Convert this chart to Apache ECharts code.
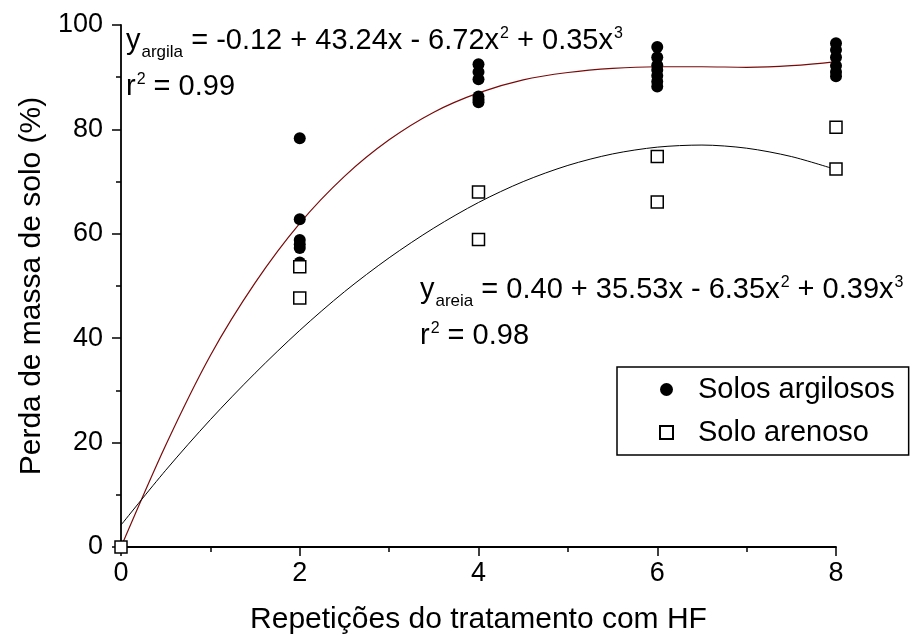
<!DOCTYPE html>
<html>
<head>
<meta charset="utf-8">
<script src="https://cdn.jsdelivr.net/npm/echarts@6/dist/echarts.min.js"></script>
<style>
  html, body { margin: 0; padding: 0; background: #fff; }
  #chart { width: 918px; height: 641px; }
</style>
</head>
<body>
<div id="chart"></div>
<script>
// HF treatment repetitions (x) and soil mass loss (%) per replicate
const doses = [0, 2, 4, 6, 8];
const argilaValues = [
  [0],
  [78.3, 62.8, 58.8, 58.0, 57.3, 54.5],
  [92.5, 91.0, 89.6, 86.3, 85.7, 85.2],
  [95.8, 93.8, 92.3, 91.4, 90.3, 89.2, 88.2],
  [96.5, 95.2, 93.8, 92.2, 91.0, 90.2]
];
const areiaValues = [
  [0],
  [53.7, 47.7],
  [68.0, 58.9],
  [74.8, 66.1],
  [80.4, 72.4]
];

// Fitted curves, sampled every 0.5 repetitions
const fitX = [0, 0.5, 1, 1.5, 2, 2.5, 3, 3.5, 4, 4.5, 5, 5.5, 6, 6.5, 7, 7.5, 8];
const fitArgila = [0, 19.5, 36.7, 50.6, 62.0, 71.0, 78.0, 83.3, 87.0, 89.5, 90.9, 91.7, 92.0, 92.0, 91.9, 92.2, 93.0];
const fitAreia = [4.2, 14.7, 24.4, 33.3, 41.5, 48.9, 55.4, 61.1, 66.0, 70.0, 73.1, 75.3, 76.6, 77.0, 76.4, 74.8, 72.3];

const xTicks = [0, 2, 4, 6, 8];
const yTicks = [0, 20, 40, 60, 80, 100];

const FONT = '"Liberation Sans", Arial, sans-serif';

function toPairs(xs, groups) {
  const out = [];
  xs.forEach((x, i) => groups[i].forEach(v => out.push([x, v])));
  return out;
}
function zip(xs, ys) { return xs.map((x, i) => [x, ys[i]]); }

const chart = echarts.init(document.getElementById('chart'), null, { renderer: 'canvas' });

// Rich-text styles for the regression equations (subscripts / superscripts)
const eqRich = {
  n:   { fontSize: 29, lineHeight: 46, fontFamily: FONT, color: '#000', verticalAlign: 'middle' },
  sub: { fontSize: 17, lineHeight: 17, fontFamily: FONT, color: '#000', verticalAlign: 'bottom', padding: [0, 0, 3, 1] },
  sup: { fontSize: 16, lineHeight: 16, fontFamily: FONT, color: '#000', verticalAlign: 'top', padding: [8, 0, 0, 1] }
};

chart.setOption({
  animation: false,
  backgroundColor: '#fff',
  grid: { left: 121, right: 82, top: 25, bottom: 94, containLabel: false },
  xAxis: {
    type: 'value',
    min: 0, max: 8, interval: 2,
    name: 'Repetições do tratamento com HF',
    nameLocation: 'middle',
    nameGap: 58,
    nameTextStyle: { fontFamily: FONT, fontSize: 30, color: '#000' },
    axisLine: { show: true, onZero: false, lineStyle: { color: '#000', width: 1.8 } },
    axisTick: { show: true, inside: false, length: 9, lineStyle: { color: '#000', width: 1.5 } },
    minorTick: { show: true, splitNumber: 2, length: 5, lineStyle: { color: '#000', width: 1.5 } },
    axisLabel: { fontFamily: FONT, fontSize: 27, color: '#000', margin: 13,
      formatter: v => (xTicks.indexOf(v) >= 0 ? String(v) : '') },
    splitLine: { show: false }
  },
  yAxis: {
    type: 'value',
    min: 0, max: 100, interval: 20,
    name: 'Perda de massa de solo (%)',
    nameLocation: 'middle',
    nameGap: 74,
    nameTextStyle: { fontFamily: FONT, fontSize: 30, color: '#000' },
    axisLine: { show: true, onZero: false, lineStyle: { color: '#000', width: 1.8 } },
    axisTick: { show: true, inside: false, length: 9, lineStyle: { color: '#000', width: 1.5 } },
    minorTick: { show: true, splitNumber: 2, length: 5, lineStyle: { color: '#000', width: 1.5 } },
    axisLabel: { fontFamily: FONT, fontSize: 27, color: '#000', margin: 18,
      formatter: v => (yTicks.indexOf(v) >= 0 ? String(v) : '') },
    splitLine: { show: false }
  },
  legend: {
    orient: 'vertical',
    left: 617, top: 367,
    padding: [6, 14, 6, 42],
    itemGap: 10,
    itemWidth: 13, itemHeight: 13,
    borderColor: '#000', borderWidth: 1.5,
    backgroundColor: '#fff',
    textStyle: { fontFamily: FONT, fontSize: 29, lineHeight: 33, color: '#000', padding: [0, 0, 0, 20] },
    data: ['Solos argilosos', 'Solo arenoso']
  },
  graphic: [
    {
      type: 'text', left: 126, top: 18, z: 100,
      style: {
        text: '{n|y}{sub|argila}{n| = -0.12 + 43.24x - 6.72x}{sup|2}{n| + 0.35x}{sup|3}\n{n|r}{sup|2}{n| = 0.99}',
        rich: eqRich
      }
    },
    {
      type: 'text', left: 420, top: 267, z: 100,
      style: {
        text: '{n|y}{sub|areia}{n| = 0.40 + 35.53x - 6.35x}{sup|2}{n| + 0.39x}{sup|3}\n{n|r}{sup|2}{n| = 0.98}',
        rich: eqRich
      }
    }
  ],
  series: [
    {
      name: 'ajuste argila', type: 'line', data: zip(fitX, fitArgila),
      showSymbol: false, smooth: 0.3, silent: true, z: 2,
      lineStyle: { color: '#7a0a0a', width: 1.2 }
    },
    {
      name: 'ajuste areia', type: 'line', data: zip(fitX, fitAreia),
      showSymbol: false, smooth: 0.3, silent: true, z: 2,
      lineStyle: { color: '#000', width: 1 }
    },
    {
      name: 'Solos argilosos', type: 'scatter', data: toPairs(doses, argilaValues),
      symbol: 'circle', symbolSize: 12, clip: false, z: 3,
      itemStyle: { color: '#000', borderColor: '#000', borderWidth: 0, opacity: 1 }
    },
    {
      name: 'Solo arenoso', type: 'scatter', data: toPairs(doses, areiaValues),
      symbol: 'rect', symbolSize: 12, clip: false, z: 4,
      itemStyle: { color: '#fff', borderColor: '#000', borderWidth: 1.5, opacity: 1 }
    }
  ]
});
</script>
</body>
</html>
